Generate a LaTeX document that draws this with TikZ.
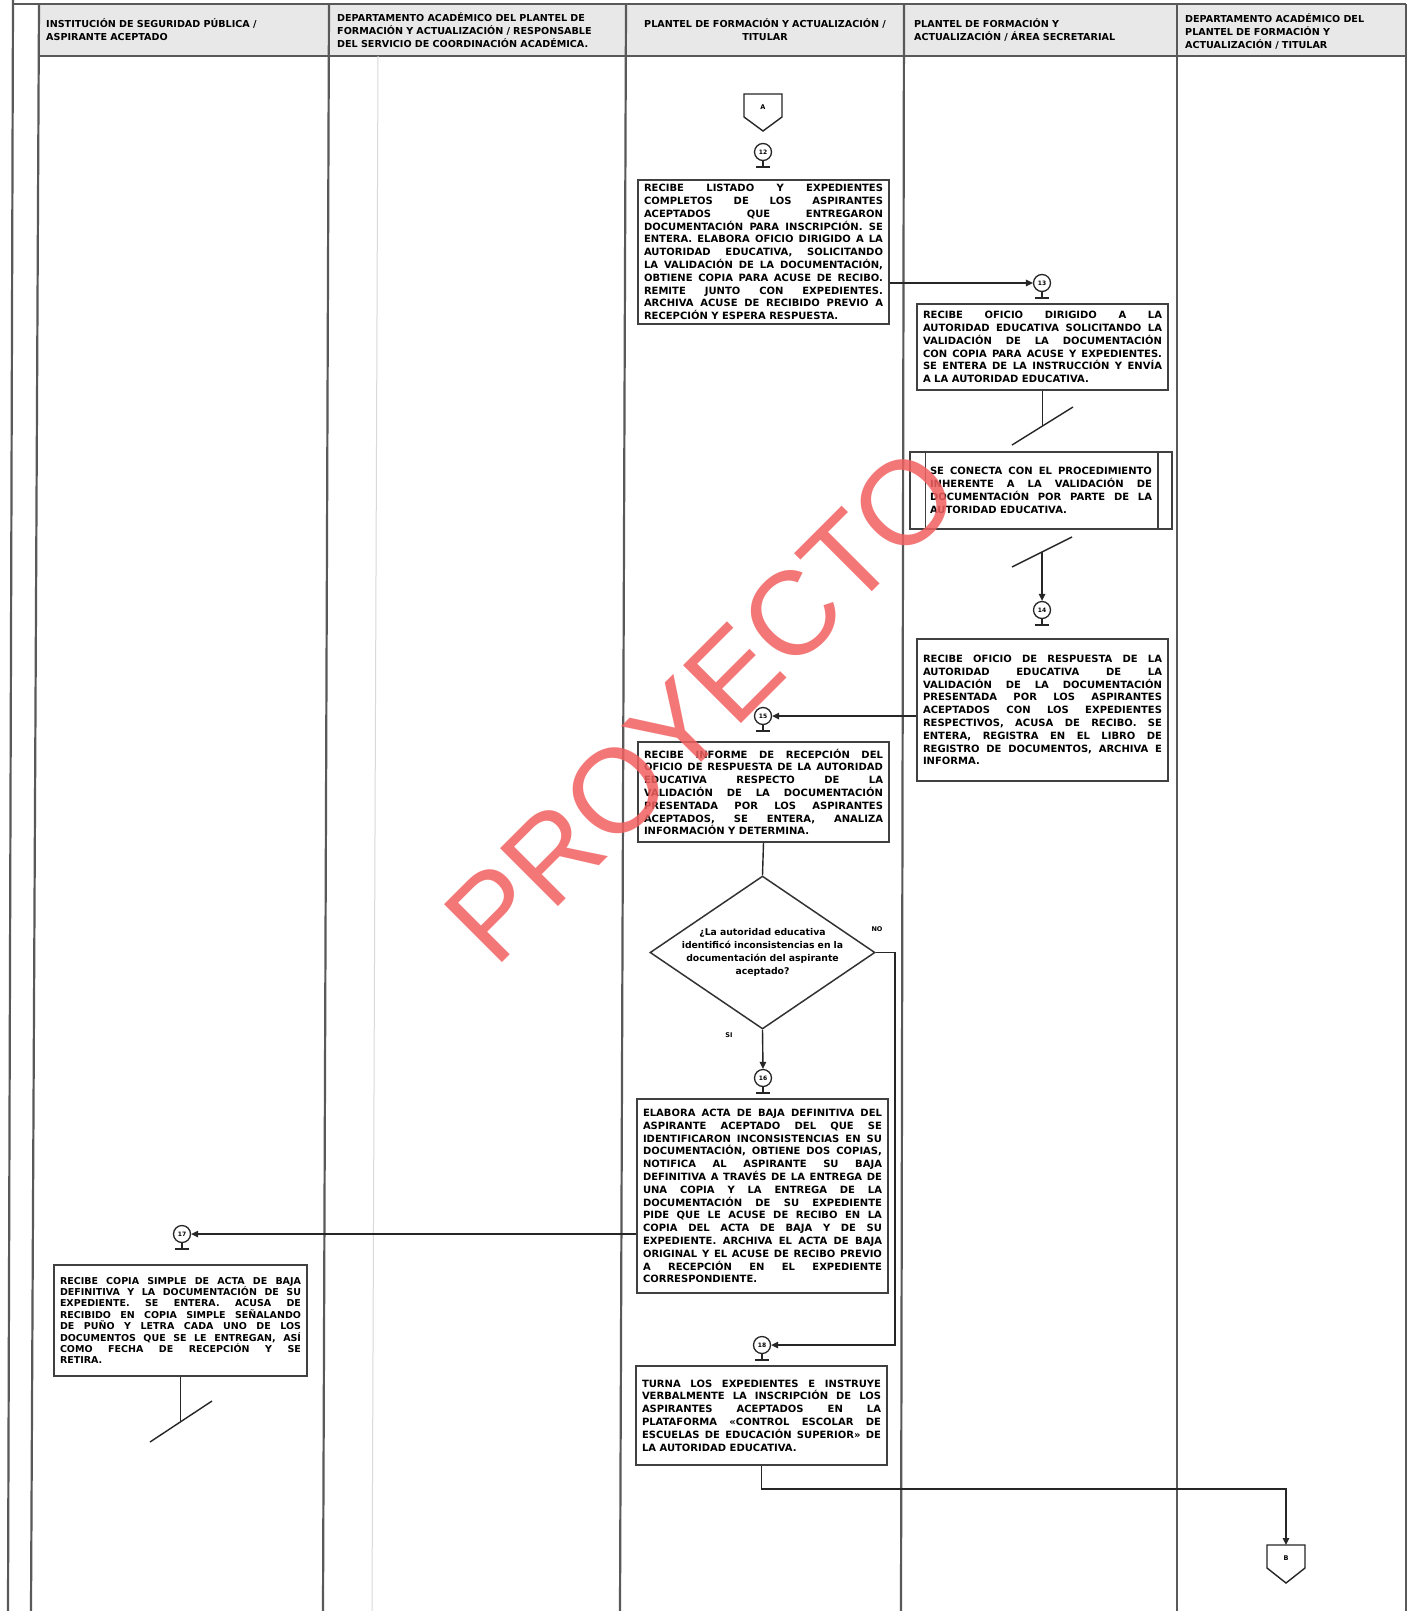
\documentclass[tikz,border=0pt]{standalone}
\usepackage{fontspec}
\setmainfont{DejaVu Sans}
\newfontfamily\wmfont{Liberation Sans}
\usetikzlibrary{arrows.meta,shapes.geometric,calc}
\definecolor{wmred}{RGB}{242,96,96}
\definecolor{hdrgray}{RGB}{232,232,232}
\newcommand\boxfont{\bfseries\fontsize{10}{12.8}\selectfont\tolerance=10000\hyphenpenalty=10000}
\newcommand\smboxfont{\bfseries\fontsize{9.5}{11.4}\selectfont\tolerance=10000\hyphenpenalty=10000}
\newcommand\hdrfont{\bfseries\fontsize{9.6}{13}\selectfont}
\newcommand\standof[1]{\draw[ln] (#1.south) -- ++(0,6) ++(-7,0) -- ++(14,0);}
\begin{document}
\begin{tikzpicture}[x=1pt,y=-1pt,
  lane/.style={draw=black!65,line width=2.2pt},
  ln/.style={draw=black!85,line width=1.4pt},
  arr/.style={ln,-{Triangle[length=7pt,width=6.5pt]}},
  box/.style={draw=black!75,line width=1.5pt,inner sep=0pt,align=justify,font=\boxfont},
  conn/.style={circle,draw=black!85,line width=1.3pt,minimum size=17pt,inner sep=0pt,font=\bfseries\fontsize{6}{6}\selectfont},
  hdr/.style={inner sep=0pt,font=\hdrfont},
  lbl/.style={inner sep=0pt,font=\bfseries\fontsize{6.5}{7}\selectfont}
]
\useasboundingbox (0,0) rectangle (1409,1611);
\fill[white] (0,0) rectangle (1409,1611);

% header
\fill[hdrgray] (39,4) rectangle (1406,56);
\draw[lane] (13,4) -- (1406,4);
\draw[lane] (39,56) -- (1406,56);
\draw[black!15,line width=1pt] (378,56) -- (372,1611);
\draw[lane] (13,0) -- (8,1611);
\draw[lane] (39,4) -- (31,1611);
\draw[lane] (329,4) -- (323,1611);
\draw[lane] (626,4) -- (620,1611);
\draw[lane] (904,4) -- (901,1611);
\draw[lane] (1177,4) -- (1177,1611);
\draw[lane] (1406,4) -- (1406,1611);

\node[hdr,anchor=west,text width=275,align=left] (h1) at (46,30) {INSTITUCIÓN DE SEGURIDAD PÚBLICA /\\ ASPIRANTE ACEPTADO};
\node[hdr,anchor=west,text width=285,align=left] (h2) at (337,30) {DEPARTAMENTO ACADÉMICO DEL PLANTEL DE\\ FORMACIÓN Y ACTUALIZACIÓN / RESPONSABLE\\ DEL SERVICIO DE COORDINACIÓN ACADÉMICA.};
\node[hdr,text width=272,align=center] (h3) at (765,30) {PLANTEL DE FORMACIÓN Y ACTUALIZACIÓN /\\ TITULAR};
\node[hdr,anchor=west,text width=258,align=left] (h4) at (914,30) {PLANTEL DE FORMACIÓN Y\\ ACTUALIZACIÓN / ÁREA SECRETARIAL};
\node[hdr,anchor=west,text width=218,align=left] (h5) at (1185,31) {DEPARTAMENTO ACADÉMICO DEL\\ PLANTEL DE FORMACIÓN Y\\ ACTUALIZACIÓN / TITULAR};

% connector A
\draw[ln] (744,94) -- (782,94) -- (782,117) -- (763,131) -- (744,117) -- cycle;
\node[lbl] (conA) at (763,107) {A};

% circles
\node[conn] (c12) at (763,152) {12}; \standof{c12}
\node[conn] (c13) at (1042,283) {13}; \standof{c13}
\node[conn] (c14) at (1042,610) {14}; \standof{c14}
\node[conn] (c15) at (763,716) {15}; \standof{c15}
\node[conn] (c16) at (763,1078) {16}; \standof{c16}
\node[conn] (c17) at (182,1234) {17}; \standof{c17}
\node[conn] (c18) at (762,1345) {18}; \standof{c18}

% boxes
\node[box,minimum width=251,minimum height=144,text width=239] (box1) at (763.5,252) {RECIBE LISTADO Y EXPEDIENTES\linebreak
COMPLETOS DE LOS ASPIRANTES\linebreak
ACEPTADOS QUE ENTREGARON\linebreak
DOCUMENTACIÓN PARA INSCRIPCIÓN. SE\linebreak
ENTERA. ELABORA OFICIO DIRIGIDO A LA\linebreak
AUTORIDAD EDUCATIVA, SOLICITANDO\linebreak
LA VALIDACIÓN DE LA DOCUMENTACIÓN,\linebreak
OBTIENE COPIA PARA ACUSE DE RECIBO.\linebreak
REMITE JUNTO CON EXPEDIENTES.\linebreak
ARCHIVA ACUSE DE RECIBIDO PREVIO A\linebreak
RECEPCIÓN Y ESPERA RESPUESTA.};

\node[box,minimum width=251,minimum height=86,text width=239] (box2) at (1042.5,347) {RECIBE OFICIO DIRIGIDO A LA\linebreak
AUTORIDAD EDUCATIVA SOLICITANDO LA\linebreak
VALIDACIÓN DE LA DOCUMENTACIÓN\linebreak
CON COPIA PARA ACUSE Y EXPEDIENTES.\linebreak
SE ENTERA DE LA INSTRUCCIÓN Y ENVÍA\linebreak
A LA AUTORIDAD EDUCATIVA.};

\node[box,minimum width=262,minimum height=77,text width=222] (box3) at (1041,490.5) {SE CONECTA CON EL PROCEDIMIENTO\linebreak
INHERENTE A LA VALIDACIÓN DE\linebreak
DOCUMENTACIÓN POR PARTE DE LA\linebreak
AUTORIDAD EDUCATIVA.};
\draw[draw=black!75,line width=1.5pt] ($(box3.north west)+(16,0)$) -- ($(box3.south west)+(16,0)$);
\draw[draw=black!75,line width=1.5pt] ($(box3.north east)+(-15,0)$) -- ($(box3.south east)+(-15,0)$);

\node[box,minimum width=251,minimum height=142,text width=239] (box4) at (1042.5,710) {RECIBE OFICIO DE RESPUESTA DE LA\linebreak
AUTORIDAD EDUCATIVA DE LA\linebreak
VALIDACIÓN DE LA DOCUMENTACIÓN\linebreak
PRESENTADA POR LOS ASPIRANTES\linebreak
ACEPTADOS CON LOS EXPEDIENTES\linebreak
RESPECTIVOS, ACUSA DE RECIBO. SE\linebreak
ENTERA, REGISTRA EN EL LIBRO DE\linebreak
REGISTRO DE DOCUMENTOS, ARCHIVA E\linebreak
INFORMA.};

\node[box,minimum width=251,minimum height=100,text width=239] (box5) at (763.5,792) {RECIBE INFORME DE RECEPCIÓN DEL\linebreak
OFICIO DE RESPUESTA DE LA AUTORIDAD\linebreak
EDUCATIVA RESPECTO DE LA\linebreak
VALIDACIÓN DE LA DOCUMENTACIÓN\linebreak
PRESENTADA POR LOS ASPIRANTES\linebreak
ACEPTADOS, SE ENTERA, ANALIZA\linebreak
INFORMACIÓN Y DETERMINA.};

\node[draw=black!80,line width=1.5pt,diamond,minimum width=225,minimum height=153,inner sep=0pt] (dia) at (762.5,952.5) {};
\node[inner sep=0pt,align=center,text width=190,font=\bfseries\fontsize{9.3}{13}\selectfont] (diatext) at (762.5,952.5) {¿La autoridad educativa\\ identificó inconsistencias en la\\ documentación del aspirante\\ aceptado?};

\node[box,minimum width=251,minimum height=194,text width=239] (box6) at (762.5,1196) {ELABORA ACTA DE BAJA DEFINITIVA DEL\linebreak
ASPIRANTE ACEPTADO DEL QUE SE\linebreak
IDENTIFICARON INCONSISTENCIAS EN SU\linebreak
DOCUMENTACIÓN, OBTIENE DOS COPIAS,\linebreak
NOTIFICA AL ASPIRANTE SU BAJA\linebreak
DEFINITIVA A TRAVÉS DE LA ENTREGA DE\linebreak
UNA COPIA Y LA ENTREGA DE LA\linebreak
DOCUMENTACIÓN DE SU EXPEDIENTE\linebreak
PIDE QUE LE ACUSE DE RECIBO EN LA\linebreak
COPIA DEL ACTA DE BAJA Y DE SU\linebreak
EXPEDIENTE. ARCHIVA EL ACTA DE BAJA\linebreak
ORIGINAL Y EL ACUSE DE RECIBO PREVIO\linebreak
A RECEPCIÓN EN EL EXPEDIENTE\linebreak
CORRESPONDIENTE.};

\node[box,font=\smboxfont,minimum width=253,minimum height=111,text width=241] (box7) at (180.5,1320.5) {RECIBE COPIA SIMPLE DE ACTA DE BAJA\linebreak
DEFINITIVA Y LA DOCUMENTACIÓN DE SU\linebreak
EXPEDIENTE. SE ENTERA. ACUSA DE\linebreak
RECIBIDO EN COPIA SIMPLE SEÑALANDO\linebreak
DE PUÑO Y LETRA CADA UNO DE LOS\linebreak
DOCUMENTOS QUE SE LE ENTREGAN, ASÍ\linebreak
COMO FECHA DE RECEPCIÓN Y SE\linebreak
RETIRA.};

\node[box,minimum width=251,minimum height=99,text width=239] (box8) at (761.5,1415.5) {TURNA LOS EXPEDIENTES E INSTRUYE\linebreak
VERBALMENTE LA INSCRIPCIÓN DE LOS\linebreak
ASPIRANTES ACEPTADOS EN LA\linebreak
PLATAFORMA «CONTROL ESCOLAR DE\linebreak
ESCUELAS DE EDUCACIÓN SUPERIOR» DE\linebreak
LA AUTORIDAD EDUCATIVA.};

% connector B
\draw[ln] (1267,1545) -- (1305,1545) -- (1305,1568) -- (1286,1583) -- (1267,1568) -- cycle;
\node[lbl] (conB) at (1286,1558) {B};
\coordinate (Btop) at (1286,1545);
\coordinate (bturn) at (1286,1489);

% slashes
\coordinate (s1a) at (1012,445); \coordinate (s1b) at (1073,407);
\coordinate (s2a) at (1012,567); \coordinate (s2b) at (1072,537);
\coordinate (s3a) at (150,1442); \coordinate (s3b) at (212,1401);
\coordinate (s1m) at ($(s1a)!0.5!(s1b)$);
\coordinate (s2m) at ($(s2a)!0.5!(s2b)$);
\coordinate (s3m) at ($(s3a)!0.5!(s3b)$);
\draw[ln] (s1a) -- (s1b);
\draw[ln] (s2a) -- (s2b);
\draw[ln] (s3a) -- (s3b);

% labels
\node[lbl] (lblno) at (877,929) {NO};
\node[lbl] (lblsi) at (729,1035) {SI};
\coordinate (noturn) at (895,1345);

% connectors
\draw[arr] (c13.west -| box1.east) -- (c13.west);
\draw[ln] (box2.south) -- (box2.south |- s1m);
\draw[arr] (c14.north |- s2m) -- (c14.north);
\draw[arr] (c15.east -| box4.west) -- (c15.east);
\draw[ln] (box5.south) -- (dia.north);
\draw[arr] (dia.south) -- (c16.north);
\draw[arr] (dia.east) -| (noturn) -- (c18.east);
\draw[arr] (c17.east -| box6.west) -- (c17.east);
\draw[ln] (box7.south) -- (box7.south |- s3m);
\draw[arr] (box8.south) |- (bturn) -- (Btop);

% watermark
\node[rotate=45,inner sep=0pt,font=\wmfont\fontsize{119}{119}\selectfont,text=wmred,opacity=.85] (wm) at (702,705) {PROYECTO};
\end{tikzpicture}
\end{document}
